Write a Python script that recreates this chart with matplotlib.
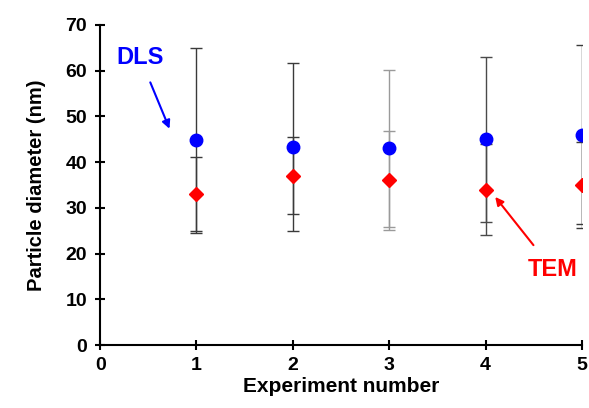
import numpy as np
import matplotlib.pyplot as plt

plt.rcParams['font.family'] = ['Liberation Sans', 'DejaVu Sans']
plt.rcParams['font.weight'] = 'bold'

# mesures
experiment = np.array([1, 2, 3, 4, 5])
dls = np.array([44.8, 43.3, 43.0, 45.0, 46.0])
dls_err = np.array([20.2, 18.3, 17.2, 18.0, 19.6])
tem = np.array([33.1, 37.0, 36.0, 34.0, 35.0])
tem_err = np.array([8.1, 8.4, 10.8, 10.0, 9.4])

fig = plt.figure(figsize=(5.89, 4.08), dpi=100)
ax = fig.add_axes([0.170, 0.154, 0.818, 0.785])

# barres d'erreur (la 3e série est plus claire sur l'original)
bar_colors = ["#3a3a3a", "#3a3a3a", "#9a9a9a", "#4a4a4a", "#3a3a3a"]
for i in range(len(experiment)):
    for val, err in ((dls, dls_err), (tem, tem_err)):
        ax.errorbar(experiment[i], val[i], yerr=err[i], fmt="none",
                    ecolor=bar_colors[i], elinewidth=1, capsize=4,
                    capthick=1, zorder=2)
ax.plot(experiment, dls, "o", color="#0000ff", markersize=9, zorder=3)
ax.plot(experiment, tem, "D", color="#ff0000", markersize=7.5, zorder=3)

ax.annotate("DLS", xy=(0.72, 47.3), xytext=(0.415, 62.8), color="#0000ff",
            fontsize=17, fontweight="bold", ha="center", va="center",
            arrowprops=dict(arrowstyle="-|>", color="#0000ff", lw=1.5,
                            shrinkA=8, shrinkB=0, mutation_scale=12))
ax.annotate("TEM", xy=(4.10, 32.4), xytext=(4.695, 16.6), color="#ff0000",
            fontsize=17, fontweight="bold", ha="center", va="center",
            arrowprops=dict(arrowstyle="-|>", color="#ff0000", lw=1.5,
                            shrinkA=9, shrinkB=0, mutation_scale=12))

ax.set_xlim(0, 5)
ax.set_ylim(0, 70)
ax.set_xticks(range(0, 6))
ax.set_yticks(range(0, 71, 10))
ax.spines["top"].set_visible(False)
ax.spines["right"].set_visible(False)
ax.spines["left"].set_linewidth(1.5)
ax.spines["bottom"].set_linewidth(1.5)
ax.tick_params(direction="inout", length=7, width=1.5, labelsize=14)
ax.tick_params(axis="y", pad=6)
ax.tick_params(axis="x", pad=5)
ax.set_xlabel("Experiment number", fontsize=15, fontweight="bold", labelpad=2)
ax.set_ylabel("Particle diameter (nm)", fontsize=14.5, fontweight="bold", labelpad=14)

fig.savefig("out.png", dpi=100)
